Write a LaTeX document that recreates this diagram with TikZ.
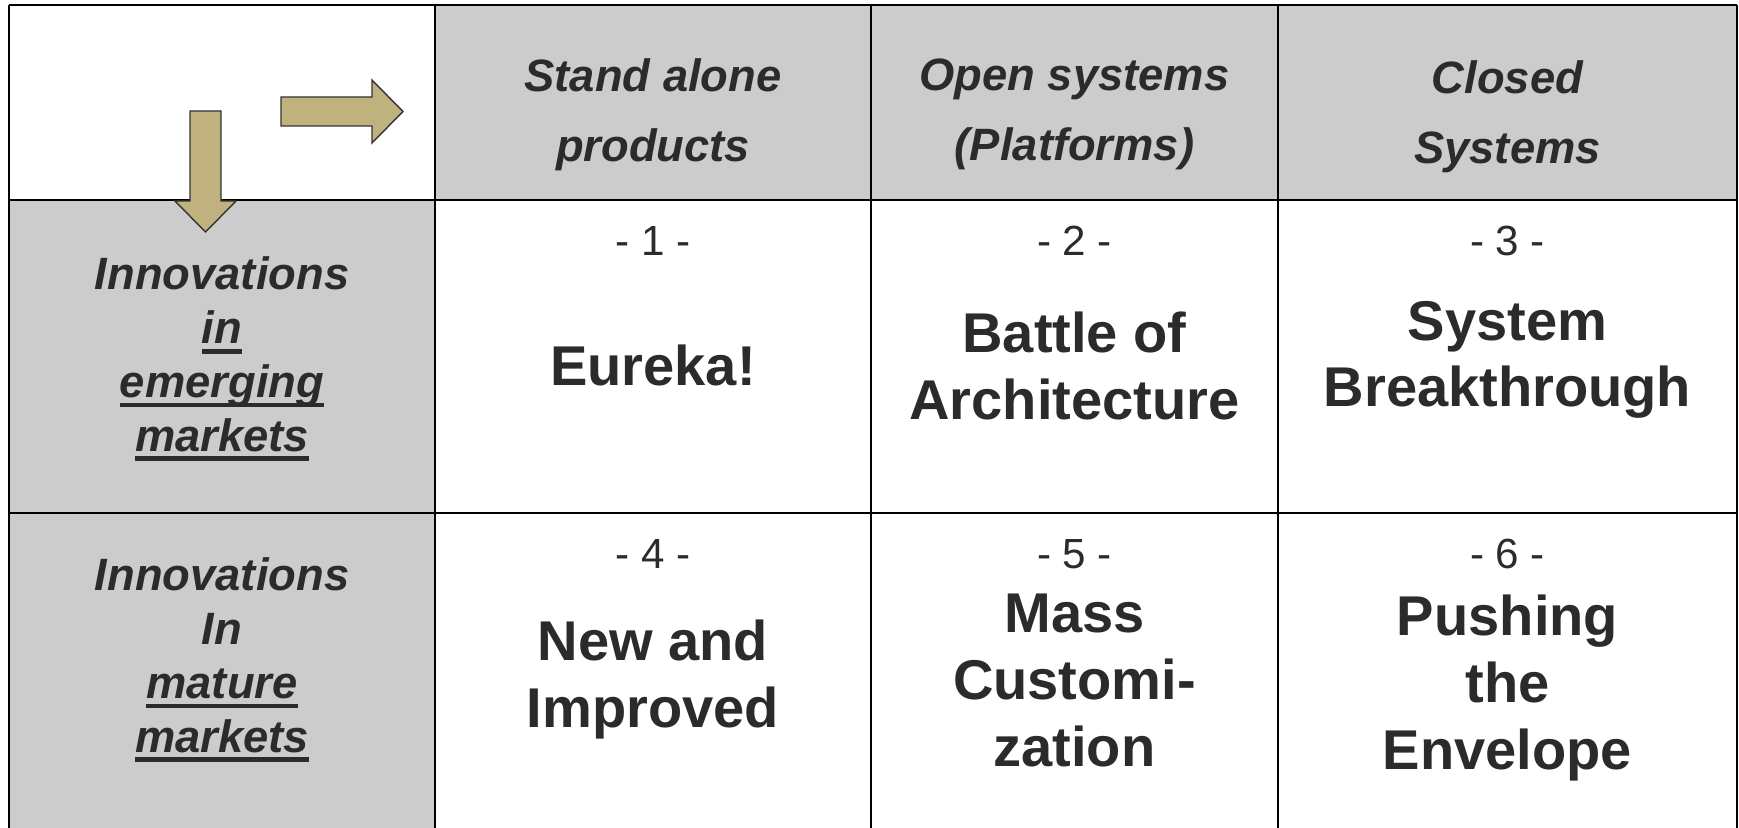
\documentclass[tikz,border=0pt]{standalone}
\usepackage{fontspec}
\setmainfont{Liberation Sans}
\usepackage{xcolor}
\usepackage{tikz}

\definecolor{cellgray}{HTML}{CCCCCC}
\definecolor{arrowtan}{HTML}{BFB27F}
\definecolor{inkgray}{HTML}{2B2B2B}
\newcommand{\ulword}[1]{\setbox0\hbox{#1}\rlap{\raisebox{-5.6pt}{\rule{\wd0}{2.7pt}}}\box0}

\begin{document}
\begin{tikzpicture}[x=0.02cm,y=-0.02cm,line width=1.2pt]
    \tikzstyle{head}=[inner sep=0, anchor=north, align=center, text=inkgray, font=\fontsize{25.8}{39.7}\selectfont\bfseries\itshape]
    \tikzstyle{side}=[head, font=\fontsize{25.8}{30.6}\selectfont\bfseries\itshape]
    \tikzstyle{num}=[inner sep=0, anchor=north, text=inkgray, font=\fontsize{24}{28}\selectfont]
    \tikzstyle{big}=[inner sep=0, anchor=north, align=center, text=inkgray, font=\fontsize{31.9}{38}\selectfont\bfseries]
    \tikzstyle{arrowbox}=[fill=arrowtan, draw=black!80, line width=0.8pt]
    \useasboundingbox (0,0) rectangle (1739,828);
    \fill[white] (0,0) rectangle (1739,828);
    \fill[cellgray] (435,5) rectangle (1737,200);
    \fill[cellgray] (9,200) rectangle (435,828);
    \draw (9,5) -- (1737,5);
    \draw (9,200) -- (1737,200);
    \draw (9,513) -- (1737,513);
    \draw (9,5) -- (9,828);
    \draw (435,5) -- (435,828);
    \draw (871,5) -- (871,828);
    \draw (1278,5) -- (1278,828);
    \draw (1737,5) -- (1737,828);
    \draw[arrowbox] (281,97) -- (372,97) -- (372,80) -- (403,111.5) -- (372,143) -- (372,126) -- (281,126) -- cycle;
    \draw[arrowbox] (190,111) -- (221,111) -- (221,201) -- (236,201) -- (205.5,232) -- (175,201) -- (190,201) -- cycle;
    \node[head] (stand) at (653,58) {Stand alone\\products};
    \node[head] (open) at (1074.5,58) {Open systems\\(Platforms)};
    \node[head] (closed) at (1507.5,60) {Closed\\Systems};
    \node[side] (emerging) at (222,256) {Innovations\\\ulword{in}\\\ulword{emerging}\\\ulword{markets}};
    \node[side] (mature) at (222,557) {Innovations\\In\\\ulword{mature}\\\ulword{markets}};
    \node[num] (n1) at (653,225) {- 1 -};
    \node[num] (n2) at (1074.5,225) {- 2 -};
    \node[num] (n3) at (1507.5,225) {- 3 -};
    \node[num] (n4) at (653,538) {- 4 -};
    \node[num] (n5) at (1074.5,538) {- 5 -};
    \node[num] (n6) at (1507.5,538) {- 6 -};
    \node[big] (eureka) at (653,344) {Eureka!};
    \node[big] (battle) at (1074.5,311) {Battle of\\Architecture};
    \node[big] (breakthrough) at (1507.5,300) {System\\Breakthrough};
    \node[big] (improved) at (653,619) {New and\\Improved};
    \node[big] (masscust) at (1074.5,593) {Mass\\Customi-\\zation};
    \node[big] (envelope) at (1507.5,594) {Pushing\\the\\Envelope};
\end{tikzpicture}
\end{document}
